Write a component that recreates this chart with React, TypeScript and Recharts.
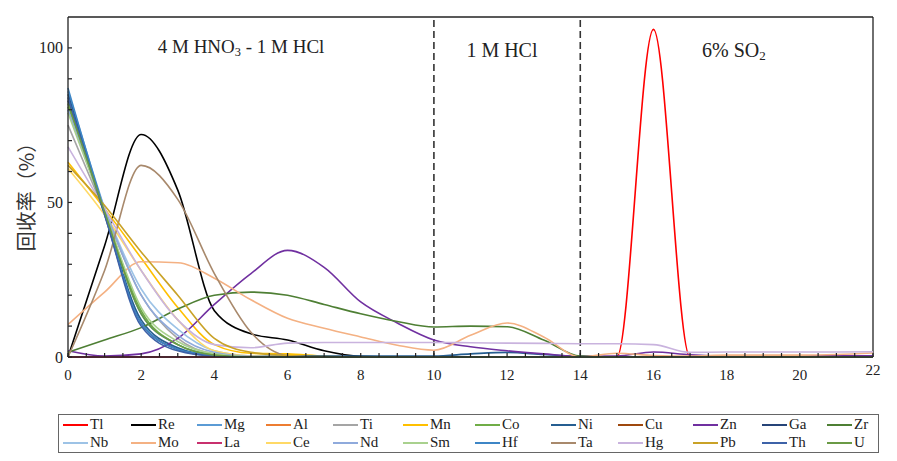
import { LineChart, Line, XAxis, YAxis, ReferenceLine } from 'recharts';

// elution fractions (x axis)
const fractions = [0, 1, 2, 3, 4, 5, 6, 7, 8, 9, 10, 11, 12, 13, 14, 15, 16, 17, 18, 19, 20, 21, 22];

// recovery (%) per element, one value per fraction
const Tl = [0, 0, 0, 0, 0, 0, 0, 0, 0, 0, 0, 0, 0, 0, 0, 0, 106, 0, 0, 0, 0, 0, 0];
const Re = [0, 36, 72, 54, 15, 7.5, 5.5, 2, 0.2, 0, 0, 0, 0, 0, 0, 0, 0, 0, 0, 0, 0, 0, 0];
const Mg = [86, 48, 14, 4, 0.8, 0, 0, 0, 0, 0, 0, 0, 0, 0, 0, 0, 0, 0, 0, 0, 0, 0, 0];
const Al = [0, 0, 0, 0, 0, 0, 0, 0, 0, 0, 0, 0, 0, 0, 0, 0, 0, 0, 0, 0, 0, 0, 0];
const Ti = [75, 47, 20, 6, 1, 0.2, 0, 0, 0, 0, 0, 0, 0, 0, 0, 0, 0, 0, 0, 0, 0, 0, 0];
const Mn = [63, 48, 32, 16, 4, 1.2, 1, 0.3, 0, 0, 0, 0, 0, 0, 0, 0, 0, 0, 0, 0, 0, 0, 0];
const Co = [81, 47, 15, 4, 0.7, 0, 0, 0, 0, 0, 0, 0, 0, 0, 0, 0, 0, 0, 0, 0, 0, 0, 0];
const Ni = [85, 47, 12, 3, 0.5, 0.2, 0.3, 0.3, 0.3, 0.3, 0.3, 1, 1.5, 0.8, 0.2, 0, 0, 0, 0, 0, 0, 0, 0];
const Cu = [0, 0, 0, 0, 0, 0, 0, 0, 0, 0, 0, 0, 0, 0, 0, 0, 0, 0, 0, 0, 0, 0, 0];
const Zn = [2, 0.3, 1, 6, 17, 27, 34.5, 29, 17.8, 11, 5.5, 3.3, 2, 1, 0.2, 0.3, 1.6, 0.7, 0.3, 0.3, 0.3, 0.4, 0.4];
const Ga = [83, 46, 11, 2.5, 0.3, 0, 0, 0, 0, 0, 0, 0, 0, 0, 0, 0, 0, 0, 0, 0, 0, 0, 0];
const Zr = [1.5, 5.5, 9.5, 15.5, 20, 21, 20, 17, 14, 11.5, 9.7, 10, 9.8, 5.5, 0.3, 0, 0, 0, 0, 0, 0, 0, 0];
const Nb = [80, 48, 22, 9, 2, 0.3, 0, 0, 0, 0, 0, 0, 0, 0, 0, 0, 0, 0, 0, 0, 0, 0, 0];
const Mo = [10.5, 21, 30.8, 30.5, 25.5, 18.5, 12.5, 9.3, 6.5, 3.8, 2.2, 7, 11, 6.5, 0, 1.2, 0.5, 0.3, 0.6, 0.6, 0.6, 0.8, 1.3];
const La = [0, 0, 0, 0, 0, 0, 0, 0, 0, 0, 0, 0, 0, 0, 0, 0, 0, 0, 0, 0, 0, 0, 0];
const Ce = [61, 46, 28, 12, 2, 0.3, 0, 0, 0, 0, 0, 0, 0, 0, 0, 0, 0, 0, 0, 0, 0, 0, 0];
const Nd = [80, 48, 20, 7, 1.5, 0.2, 0, 0, 0, 0, 0, 0, 0, 0, 0, 0, 0, 0, 0, 0, 0, 0, 0];
const Sm = [79, 47, 16, 5, 1, 0, 0, 0, 0, 0, 0, 0, 0, 0, 0, 0, 0, 0, 0, 0, 0, 0, 0];
const Hf = [87, 47, 11, 2.5, 0.5, 0, 0, 0, 0, 0, 0, 0, 0, 0, 0, 0, 0, 0, 0, 0, 0, 0, 0];
const Ta = [0, 28, 62, 51, 27, 8, 0.5, 0, 0, 0, 0, 0, 0, 0, 0, 0, 0, 0, 0, 0, 0, 0, 0];
const Hg = [68, 48, 28, 12, 4, 3, 4.5, 4.7, 4.7, 4.7, 4.7, 4.6, 4.5, 4.4, 4.3, 4.3, 4, 1.5, 1.6, 1.6, 1.6, 1.6, 1.7];
const Pb = [62, 49, 34, 20, 6, 1.5, 0.5, 0, 0, 0, 0, 0, 0, 0, 0, 0, 0, 0, 0, 0, 0, 0, 0];
const Th = [84, 46, 10, 2, 0.3, 0, 0, 0, 0, 0, 0, 0, 0, 0, 0, 0, 0, 0, 0, 0, 0, 0, 0];
const U = [82, 47, 14, 4, 0.6, 0, 0, 0, 0, 0, 0, 0, 0, 0, 0, 0, 0, 0, 0, 0, 0, 0, 0];

const elements = ['Tl', 'Re', 'Mg', 'Al', 'Ti', 'Mn', 'Co', 'Ni', 'Cu', 'Zn', 'Ga', 'Zr',
  'Nb', 'Mo', 'La', 'Ce', 'Nd', 'Sm', 'Hf', 'Ta', 'Hg', 'Pb', 'Th', 'U'];
const values: Record<string, number[]> = {
  Tl, Re, Mg, Al, Ti, Mn, Co, Ni, Cu, Zn, Ga, Zr, Nb, Mo, La, Ce, Nd, Sm, Hf, Ta, Hg, Pb, Th, U,
};

const xLabels = [0, 2, 4, 6, 8, 10, 12, 14, 16, 18, 20, 22];
const yLabels = [0, 50, 100];
const dividers = [10, 14];

const colors: Record<string, string> = {
  Tl: '#FF0000', Re: '#000000', Mg: '#5B9BD5', Al: '#ED7D31', Ti: '#A5A5A5', Mn: '#FFC000',
  Co: '#70AD47', Ni: '#255E91', Cu: '#9E480E', Zn: '#7030A0', Ga: '#264478', Zr: '#4E7F34',
  Nb: '#9DC3E6', Mo: '#F4B183', La: '#C8306E', Ce: '#FFD966', Nd: '#8FAADC', Sm: '#A9D18E',
  Hf: '#3E86C6', Ta: '#A8896C', Hg: '#C9B3DE', Pb: '#C9A227', Th: '#3D62A8', U: '#6A9A45',
};

const serif = '"Liberation Serif", "DejaVu Serif", serif';
const ink = '#222';

const rows = fractions.map((x, i) => {
  const r: Record<string, number> = { x };
  elements.forEach((el) => { r[el] = values[el][i]; });
  return r;
});

const xTickPositions = fractions.flatMap((f) => (f < 22 ? [f, f + 0.5] : [f]));
const yTickPositions = [0, 10, 20, 30, 40, 50, 60, 70, 80, 90, 100];

const XTick = (props: any) => {
  const { x, y, payload } = props;
  const v = payload.value;
  return (
    <g>
      <line x1={x} x2={x} y1={y} y2={y - 4} stroke={ink} strokeWidth={1.2} />
      {xLabels.includes(v) && (
        <text x={x} y={y + (v === 22 ? 18 : 23)} textAnchor="middle" fontSize={15} fontFamily={serif} fill={ink}>
          {v}
        </text>
      )}
    </g>
  );
};

const YTick = (props: any) => {
  const { x, y, payload } = props;
  const v = payload.value;
  return (
    <g>
      <line x1={x} x2={x + 4} y1={y} y2={y} stroke={ink} strokeWidth={1.2} />
      {yLabels.includes(v) && (
        <text x={x - 5} y={y + 5.5} textAnchor="end" fontSize={16} fontFamily={serif} fill={ink}>
          {v}
        </text>
      )}
    </g>
  );
};

const region = (main: string, sub: string, rest: string, size: number, dy: number) => (props: any) => {
  const { viewBox } = props;
  return (
    <text x={viewBox.x} y={viewBox.y + dy} textAnchor="middle" fontSize={size} fontFamily={serif} fill={ink}>
      {main}
      {sub && <tspan dy={3} fontSize={size * 0.65}>{sub}</tspan>}
      {rest && <tspan dy={sub ? -3 : 0}>{rest}</tspan>}
    </text>
  );
};

const yTitle = (props: any) => {
  const { viewBox } = props;
  const cx = 17;
  const cy = viewBox.y + viewBox.height / 2 + 5;
  return (
    <text x={cx} y={cy} transform={`rotate(-90 ${cx} ${cy})`} textAnchor="middle" dominantBaseline="central"
      fontSize={20} fontFamily='"Noto Sans CJK SC", sans-serif' fill="#333">
      回收率（%）
    </text>
  );
};

const legendCols = '68px 66px 69px 67px 70px 72px 76px 67px 75px 69px 65px 1fr';

export default function App() {
  return (
    <div style={{ position: 'relative', width: 880, height: 450 }}>
      <LineChart width={880} height={380} data={rows} margin={{ top: 9, right: 15, bottom: 1, left: 0 }}>
        <XAxis
          dataKey="x"
          type="number"
          domain={[0, 22]}
          ticks={xTickPositions}
          interval={0}
          tickSize={0}
          tickMargin={0}
          tick={<XTick />}
          axisLine={{ stroke: ink, strokeWidth: 1.3 }}
          tickLine={false}
          height={30}
        />
        <YAxis
          type="number"
          domain={[0, 110]}
          ticks={yTickPositions}
          interval={0}
          tickSize={0}
          tickMargin={0}
          tick={<YTick />}
          axisLine={{ stroke: ink, strokeWidth: 1.3 }}
          tickLine={false}
          width={60}
          label={{ content: yTitle }}
        />
        <ReferenceLine y={110} stroke={ink} strokeWidth={1.3} />
        <ReferenceLine x={22} stroke={ink} strokeWidth={1.3} />
        {dividers.map((d) => (
          <ReferenceLine key={d} x={d} stroke="#333" strokeWidth={1.6} strokeDasharray="7 4" />
        ))}
        <ReferenceLine x={4.73} stroke="none" label={{ content: region('4 M HNO', '3', ' - 1 M HCl', 19, 36) }} />
        <ReferenceLine x={11.86} stroke="none" label={{ content: region('1 M HCl', '', '', 20, 40) }} />
        <ReferenceLine x={18.2} stroke="none" label={{ content: region('6% SO', '2', '', 20, 40) }} />
        {elements.map((el) => (
          <Line
            key={el}
            type="monotone"
            dataKey={el}
            stroke={colors[el]}
            strokeWidth={1.6}
            dot={false}
            activeDot={false}
            isAnimationActive={false}
          />
        ))}
      </LineChart>
      <div
        style={{
          position: 'absolute',
          left: 50,
          top: 406,
          width: 821,
          height: 39,
          boxSizing: 'border-box',
          border: '1px solid #666',
          paddingLeft: 4,
          display: 'grid',
          gridTemplateColumns: legendCols,
          gridAutoRows: 18,
          alignContent: 'center',
          fontFamily: serif,
          fontSize: 15,
          color: ink,
        }}
      >
        {elements.map((el) => (
          <div key={el} style={{ display: 'flex', alignItems: 'center', whiteSpace: 'nowrap' }}>
            <span style={{ display: 'inline-block', width: 25, height: 2, background: colors[el], marginRight: 2 }} />
            <span>{el}</span>
          </div>
        ))}
      </div>
    </div>
  );
}
